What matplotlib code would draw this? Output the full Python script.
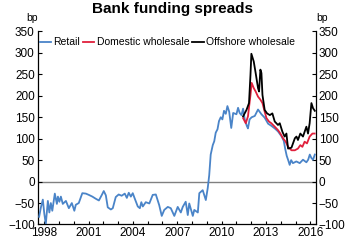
import matplotlib
matplotlib.use('Agg')
import matplotlib.pyplot as plt
from matplotlib.ticker import MultipleLocator

plt.rcParams['font.family'] = ['Liberation Sans', 'DejaVu Sans']

# values (decimal year, bp)
retail_t = [1997.66, 1997.78, 1997.91, 1998.01, 1998.11, 1998.25, 1998.35, 1998.45, 1998.55, 1998.72,
            1998.86, 1998.93, 1999.03, 1999.13, 1999.26, 1999.47, 1999.67, 1999.87, 2000.04, 2000.14,
            2000.34, 2000.58, 2000.82, 2001.02, 2001.26, 2001.49, 2001.70, 2001.90, 2002.03, 2002.17,
            2002.30, 2002.51, 2002.64, 2002.84, 2003.04, 2003.24, 2003.45, 2003.59, 2003.72, 2003.86,
            2003.99, 2004.13, 2004.33, 2004.47, 2004.57, 2004.67, 2004.87, 2005.11, 2005.34, 2005.55,
            2005.78, 2005.95, 2006.12, 2006.36, 2006.56, 2006.80, 2007.03, 2007.24, 2007.37, 2007.57,
            2007.71, 2007.81, 2008.05, 2008.15, 2008.39, 2008.49, 2008.72, 2008.93, 2009.06, 2009.16,
            2009.26, 2009.40, 2009.50, 2009.60, 2009.72, 2009.82, 2009.94, 2010.05, 2010.16, 2010.28,
            2010.39, 2010.51, 2010.65, 2010.78, 2011.00, 2011.11, 2011.22, 2011.34, 2011.45, 2011.56,
            2011.70, 2011.78, 2011.89, 2012.03, 2012.24, 2012.46, 2012.69, 2012.91, 2013.14, 2013.36,
            2013.59, 2013.81, 2014.04, 2014.20, 2014.30, 2014.40, 2014.50, 2014.60, 2014.70, 2014.82,
            2015.05, 2015.28, 2015.50, 2015.73, 2015.85, 2015.96, 2016.07, 2016.18, 2016.30]
retail = [-82, -60, -42, -75, -99, -45, -72, -50, -68, -28,
          -52, -35, -47, -35, -52, -45, -62, -50, -68, -54,
          -50, -27, -28, -31, -35, -40, -44, -31, -22, -32,
          -60, -65, -62, -36, -30, -33, -28, -38, -26, -35,
          -27, -40, -58, -62, -48, -58, -48, -51, -31, -30,
          -55, -80, -66, -59, -62, -80, -59, -72, -59, -47,
          -78, -51, -80, -66, -72, -27, -20, -43, -15, 15,
          63, 85, 94, 114, 122, 141, 150, 145, 165, 158,
          176, 163, 125, 160, 157, 172, 160, 155, 170, 145,
          130, 124, 145, 150, 153, 168, 157, 149, 135, 130,
          124, 117, 106, 95, 76, 60, 50, 39, 50, 43,
          47, 43, 51, 45, 51, 63, 55, 51, 63]

wholesale_t = [2011.45, 2011.63, 2011.78, 2011.95, 2012.03, 2012.17, 2012.30, 2012.46, 2012.62, 2012.76,
               2012.91, 2013.03, 2013.20, 2013.36, 2013.59, 2013.81, 2013.97, 2014.15, 2014.33, 2014.49,
               2014.72, 2014.95, 2015.16, 2015.32, 2015.46, 2015.61, 2015.77, 2015.95, 2016.14, 2016.29]
domestic = [148, 136, 152, 202, 230, 218, 210, 198, 191, 183,
            163, 148, 140, 136, 128, 120, 112, 101, 93, 81,
            73, 73, 77, 85, 81, 93, 89, 105, 112, 112]

offshore_t = [2011.45, 2011.68, 2011.85, 2011.95, 2012.01, 2012.17, 2012.30, 2012.46, 2012.53, 2012.62,
              2012.69, 2012.76, 2012.91, 2013.07, 2013.26, 2013.43, 2013.59, 2013.81, 2013.93, 2014.11,
              2014.26, 2014.38, 2014.49, 2014.72, 2014.95, 2015.06, 2015.16, 2015.32, 2015.50, 2015.73,
              2015.84, 2015.95, 2016.07, 2016.18, 2016.30]
offshore = [152, 167, 183, 249, 298, 280, 253, 218, 210, 261,
            253, 202, 167, 159, 155, 159, 140, 132, 136, 116,
            105, 112, 77, 79, 101, 105, 97, 112, 105, 128,
            112, 136, 183, 171, 165]

year_labels = [1998, 2001, 2004, 2007, 2010, 2013, 2016]

fig = plt.figure(figsize=(3.46, 2.40), dpi=100)
ax = fig.add_axes([0.1084, 0.0646, 0.8049, 0.8044])

ax.axhline(0, color='#808080', lw=1.0, zorder=1)
ax.plot(retail_t, retail, color='#4a84c8', lw=1.3, label='Retail', zorder=3)
ax.plot(wholesale_t, domestic, color='#e0203c', lw=1.3, label='Domestic wholesale', zorder=4)
ax.plot(offshore_t, offshore, color='black', lw=1.3, label='Offshore wholesale', zorder=5)

ax.set_xlim(1997.55, 2016.38)
ax.set_ylim(-100, 350)
ax.set_xticks(year_labels)
ax.set_xticklabels([str(y) for y in year_labels])
ax.xaxis.set_minor_locator(MultipleLocator(1))
ax.yaxis.set_major_locator(MultipleLocator(50))

ax.spines['top'].set_visible(False)
for s in ('left', 'right', 'bottom'):
    ax.spines[s].set_linewidth(0.9)

ax.tick_params(axis='y', which='both', direction='in', length=3, width=0.8,
               left=True, right=True, labelleft=True, labelright=True,
               labelsize=8.5, pad=2)
ax.tick_params(axis='x', which='both', direction='in', length=2, width=0.8,
               labelsize=8.5, pad=2)

ax.text(0.0, 1.045, 'bp', transform=ax.transAxes, ha='right', va='bottom', fontsize=7.5)
ax.text(1.0, 1.045, 'bp', transform=ax.transAxes, ha='left', va='bottom', fontsize=7.5)

ax.legend(loc='upper left', bbox_to_anchor=(0.0, 0.98), ncol=3, frameon=False,
          fontsize=7.5, handlelength=1.1, handletextpad=0.2, columnspacing=0.3,
          borderaxespad=0.1, borderpad=0.1)

fig.suptitle('Bank funding spreads', fontsize=11, fontweight='bold', y=0.99)

fig.savefig('out.png', dpi=100)
